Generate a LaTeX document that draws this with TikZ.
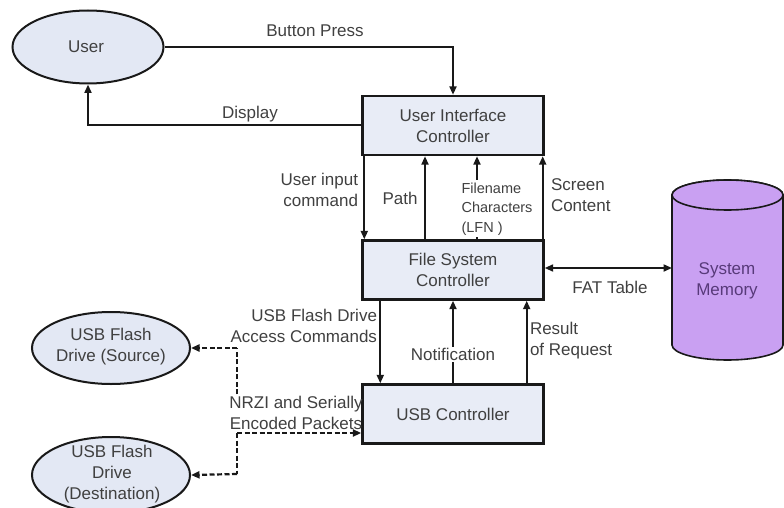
\documentclass[tikz,border=0pt]{standalone}
\usepackage{fontspec}
\setmainfont{Liberation Sans}
\usetikzlibrary{arrows.meta,shapes.geometric}

\definecolor{boxfill}{RGB}{232,236,246}
\definecolor{drivefill}{RGB}{227,232,244}
\definecolor{memfill}{RGB}{201,160,242}
\definecolor{memtext}{RGB}{88,58,122}
\definecolor{linecol}{RGB}{25,25,25}
\definecolor{txtcol}{RGB}{64,64,64}

\tikzset{every picture/.style={line width=2pt}}
\tikzset{
  >={Triangle[length=8.5pt,width=7pt]},
  ctrlbox/.style={draw=linecol, fill=boxfill, line width=2.4pt, minimum width=181, minimum height=59, align=center, text=txtcol, font=\fontsize{17}{21}\selectfont},
  drive/.style={ellipse, draw=linecol, fill=drivefill, line width=2pt, inner sep=0pt},
  flow/.style={draw=linecol, ->},
  pkt/.style={draw=linecol, line width=2.2pt, dash pattern=on 5pt off 2.5pt},
  lbl/.style={text=txtcol, align=center, inner sep=1pt, font=\fontsize{17}{21}\selectfont},
  lfn/.style={text=txtcol, fill=white, align=left, inner sep=2pt, font=\fontsize{14.5}{19.5}\selectfont},
  memcan/.style={draw=linecol, fill=memfill, line width=1.6pt},
}

\begin{document}
\begin{tikzpicture}[x=1pt,y=1pt,yscale=-1,xscale=1]
\useasboundingbox (0,0) rectangle (784,508);

%Shape: Ellipse [user]
\node[drive, minimum width=151, minimum height=73] (user) at (88,47) {};
\node[lbl] (usertxt) at (86,47) {User};
%Shape: Rectangle [controllers]
\node[ctrlbox] (ui) at (453,125.5) {User Interface\\Controller};
\node[ctrlbox] (fsc) at (453,270) {File System\\Controller};
\node[ctrlbox] (usbc) at (453,414) {USB Controller};
%Shape: Can [memory]
\draw[memcan] (672,195) -- (672,345) arc[start angle=180, end angle=0, x radius=55.5, y radius=15] -- (783,195) arc[start angle=0, end angle=-180, x radius=55.5, y radius=15] -- cycle;
\draw[memcan] (727.5,195) ellipse [x radius=55.5, y radius=15];
\coordinate (memw) at (672,268);
\node[lbl, text=memtext] (memtxt) at (727,281) {System\\Memory};
%Shape: Ellipse [drives]
\node[drive, minimum width=158, minimum height=72] (src) at (111,348) {};
\node[lbl] (srctxt) at (111,347) {USB Flash\\Drive (Source)};
\node[drive, minimum width=158, minimum height=76] (dst) at (111,475) {};
\node[lbl] (dsttxt) at (112,474) {USB Flash\\Drive\\(Destination)};

%Straight Lines [user <-> ui]
\draw[flow] (user.east) -| (ui.north);
\draw[flow] (ui.west) -| (user.south);
%Straight Lines [ui <-> fsc]
\draw[flow] ([xshift=3]ui.south west) -- ([xshift=3]fsc.north west);
\draw[flow] ([xshift=-28]fsc.north) -- ([xshift=-28]ui.south);
\draw[flow] ([xshift=24]fsc.north) -- node[lfn, xshift=20, yshift=-11] (lfnlbl) {Filename\\Characters\\(LFN )} ([xshift=24]ui.south);
\draw[flow] ([xshift=-2]fsc.north east) -- ([xshift=-2]ui.south east);
%Straight Lines [fsc <-> mem]
\draw[draw=linecol, <->] (fsc.east |- memw) -- (memw);
%Straight Lines [fsc <-> usbc]
\draw[flow] ([xshift=19]fsc.south west) -- ([xshift=19]usbc.north west);
\draw[flow] (usbc.north) -- node[lbl, fill=white, pos=0.35] (notif) {Notification} (fsc.south);
\draw[flow] ([xshift=-18]usbc.north east) -- ([xshift=-18]fsc.south east);

%Dashed Lines [usbc <-> drives]
\coordinate (srcj) at (237,348);
\coordinate (pktj) at (237,433);
\coordinate (dstj) at (237,474);
\node[lbl] (nrzi) at (296,413) {NRZI and Serially\\Encoded Packets};
\draw[pkt] (nrzi.north -| srcj) -- (srcj);
\draw[pkt, ->] (srcj) -- (src.east);
\draw[pkt, ->] (pktj) -- (pktj -| usbc.west);
\draw[pkt] (pktj) -- (dstj);
\draw[pkt, ->] (dstj) -- (dst.east);

% Text Node
\node[lbl] (btnlbl) at (315,31) {Button Press};
% Text Node
\node[lbl] (displbl) at (250,114) {Display};
% Text Node
\node[lbl, anchor=east, align=right] (cmdlbl) at (360,190) {User input\\command};
% Text Node
\node[lbl] (pathlbl) at (400,198) {Path};
% Text Node
\node[lbl, anchor=west, align=left] (scrlbl) at (549,195) {Screen\\Content};
% Text Node
\node[lbl] (fatlbl) at (610,287) {FAT Table};
% Text Node
\node[lbl, anchor=east, align=right] (acclbl) at (379,326) {USB Flash Drive\\Access Commands};
% Text Node
\node[lbl, anchor=west, align=left] (reslbl) at (528,341) {Result\\of Request};

\end{tikzpicture}
\end{document}
